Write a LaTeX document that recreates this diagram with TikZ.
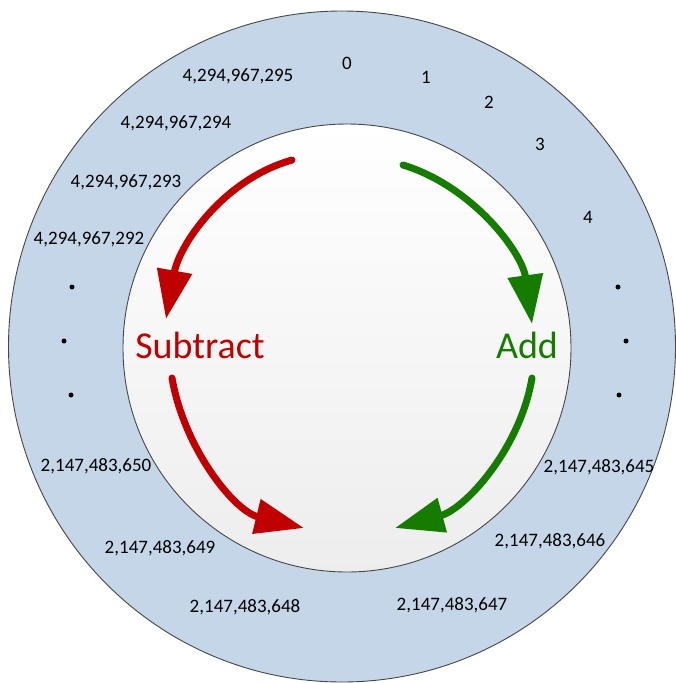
\documentclass[tikz,border=0pt]{standalone}
\usepackage{fontspec}
\setmainfont{Carlito}
\usetikzlibrary{arrows.meta}
\definecolor{ringblue}{RGB}{196,214,232}
\definecolor{subred}{RGB}{192,0,0}
\definecolor{addgreen}{RGB}{22,124,0}
\definecolor{edgegray}{RGB}{70,70,70}
\tikzset{
  num/.style={font=\fontsize{19}{21}\selectfont, text=black, inner sep=0pt},
  big/.style={font=\fontsize{38}{40}\selectfont, inner sep=0pt},
  dotmark/.style={fill=black, circle, inner sep=0pt, minimum size=5pt},
  bigarrow/.style={line width=7pt, line cap=round, -{Triangle[length=49pt,width=34pt]}},
}
\begin{document}
\begin{tikzpicture}[x=1pt,y=-1pt]
\useasboundingbox (0,0) rectangle (676,683);
\fill[ringblue] (342,346.5) ellipse [x radius=333.5, y radius=335.5];
\draw[edgegray, line width=0.9pt] (342,346.5) ellipse [x radius=333.5, y radius=335.5];
\shade[top color=white, bottom color=black!7] (347,348) circle [radius=224];
\draw[edgegray, line width=0.9pt] (347,348) circle [radius=224];

% number labels
\node[num] (n0) at (347,63) {0};
\node[num] (n1) at (426,77) {1};
\node[num] (n2) at (489,102) {2};
\node[num] (n3) at (540,144) {3};
\node[num] (n4) at (588,217) {4};
\node[num] (m1) at (238,76) {4,294,967,295};
\node[num] (m2) at (176,123) {4,294,967,294};
\node[num] (m3) at (126,182) {4,294,967,293};
\node[num] (m4) at (89,239) {4,294,967,292};
\node[num] (h0) at (96,466) {2,147,483,650};
\node[num] (h1) at (160,548) {2,147,483,649};
\node[num] (h2) at (245,607) {2,147,483,648};
\node[num] (h3) at (452,605) {2,147,483,647};
\node[num] (h4) at (550,541) {2,147,483,646};
\node[num] (h5) at (599,467) {2,147,483,645};

% dots
\node[dotmark] (dl1) at (72,287) {};
\node[dotmark] (dl2) at (64,341) {};
\node[dotmark] (dl3) at (71,395) {};
\node[dotmark] (dr1) at (618,287) {};
\node[dotmark] (dr2) at (626,341) {};
\node[dotmark] (dr3) at (619,395) {};

% main labels
\node[big, text=subred] (sub) at (200,345) {Subtract};
\node[big, text=addgreen] (add) at (527,345) {Add};

% arrow end points
\coordinate (rs1) at (292,160);
\coordinate (rt1) at (166,319);
\coordinate (rs2) at (172,378);
\coordinate (rt2) at (304,528);
\coordinate (gs1) at (403,165);
\coordinate (gt1) at (532,324);
\coordinate (gs2) at (532,378);
\coordinate (gt2) at (395,528);

\draw[bigarrow, subred] (rs1) .. controls (222,180) and (179,246) .. (rt1);
\draw[bigarrow, subred] (rs2) .. controls (184,448) and (234,511) .. (rt2);
\draw[bigarrow, addgreen] (gs1) .. controls (472,186) and (522,252) .. (gt1);
\draw[bigarrow, addgreen] (gs2) .. controls (520,449) and (465,509) .. (gt2);
\end{tikzpicture}
\end{document}
